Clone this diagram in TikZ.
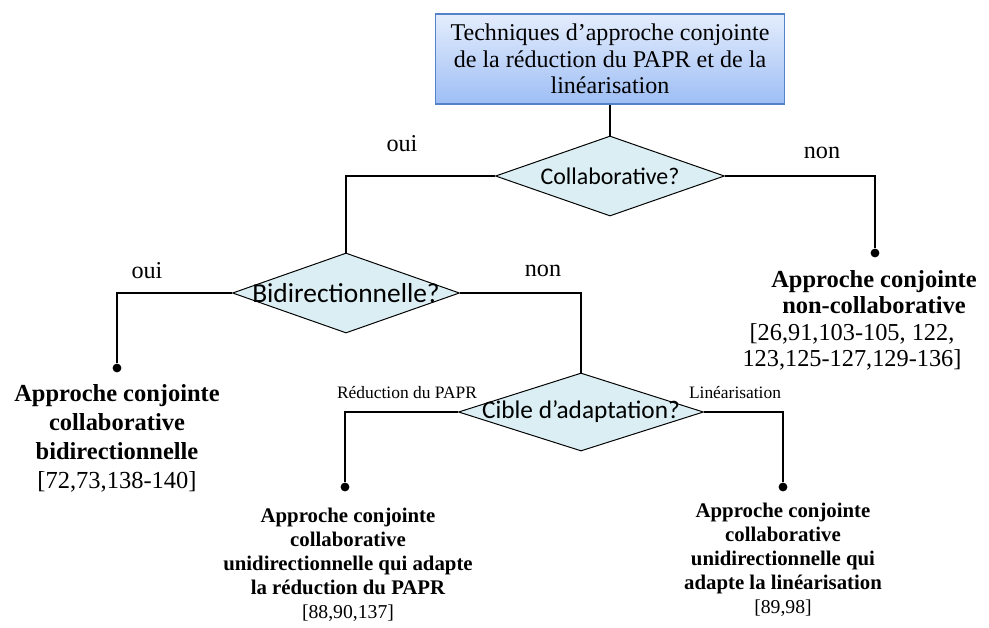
\documentclass[tikz,border=0pt]{standalone}
\usepackage{fontspec}
\setmainfont{Liberation Serif}
\newfontfamily\calibri{Carlito}
\usetikzlibrary{positioning,shapes.geometric}
\definecolor{titletop}{RGB}{228,237,252}
\definecolor{titlebot}{RGB}{158,190,245}
\definecolor{titleline}{RGB}{84,130,200}
\definecolor{decfill}{RGB}{218,238,243}

\begin{document}
\begin{tikzpicture}[x=0.025cm,y=-0.025cm,
  titlebox/.style={draw=titleline,line width=0.8pt,top color=titletop,bottom color=titlebot,
    minimum width=8.725cm,minimum height=2.25cm,inner sep=0pt,align=center,
    font=\fontsize{17.1}{19}\selectfont},
  question/.style={draw,diamond,fill=decfill,line width=0.7pt,inner sep=0pt},
  qtext/.style={font=\calibri\fontsize{17}{20}\selectfont},
  endpoint/.style={circle,fill=black,inner sep=0pt,minimum size=0.22cm},
  bigresult/.style={anchor=north,inner sep=0pt,align=center,font=\bfseries\fontsize{17.4}{20.6}\selectfont},
  smallresult/.style={anchor=north,inner sep=0pt,align=center,font=\bfseries\fontsize{14.8}{17}\selectfont},
  answer/.style={inner sep=0pt,font=\fontsize{17.2}{20}\selectfont},
  target/.style={inner sep=0pt,font=\fontsize{12.4}{14}\selectfont},
  link/.style={line width=1pt}
]
  \useasboundingbox (0,0) rectangle (989,627);

  \node[titlebox] (title) at (610,59) {Techniques d’approche conjointe\\de la réduction du PAPR et de la\\linéarisation};

  \node[question,minimum width=5.725cm,minimum height=2cm,label={[qtext]center:Collaborative?}] (collab) at (610,176) {};
  \node[question,minimum width=5.675cm,minimum height=2cm,label={[qtext,font=\calibri\fontsize{19.5}{22}\selectfont]center:Bidirectionnelle?}] (bidir) at (346,293) {};
  \node[question,minimum width=6.125cm,minimum height=1.95cm,label={[qtext,font=\calibri\fontsize{18}{21}\selectfont]center:Cible d’adaptation?}] (cible) at (581,412) {};

  \node[answer] (oui1) at (402,144) {oui};
  \node[answer] (non1) at (822,153) {non};
  \node[answer] (oui2) at (147,271) {oui};
  \node[answer] (non2) at (543,271) {non};
  \node[target] (lblpapr) at (407,393) {Réduction du PAPR};
  \node[target] (lbllin) at (735,393) {Linéarisation};

  \node[endpoint] (ncdot) at (875,253) {};
  \node[endpoint] (bidot) at (117,368) {};
  \node[endpoint] (papdot) at (345,487) {};
  \node[endpoint] (lindot) at (783,487) {};

  % resultats
  \node[bigresult,font=\bfseries\fontsize{17.4}{18.7}\selectfont] (noncollab) at (874,270) {Approche conjointe\\non-collaborative};
  \node[bigresult,font=\fontsize{17.3}{18.7}\selectfont] (ncrefs) at (852,323) {[26,91,103-105, 122,\\123,125-127,129-136]};
  \node[bigresult] (bicollab) at (117,384) {Approche conjointe\\collaborative\\bidirectionnelle\\{\mdseries [72,73,138-140]}};
  \node[smallresult] (unipapr) at (348,508) {Approche conjointe\\collaborative\\unidirectionnelle qui adapte\\la réduction du PAPR\\{\mdseries\fontsize{14}{17}\selectfont [88,90,137]}};
  \node[smallresult] (unilin) at (783,503) {Approche conjointe\\collaborative\\unidirectionnelle qui\\adapte la linéarisation\\{\mdseries\fontsize{14}{17}\selectfont [89,98]}};

  \draw[link] (title.south) -- (collab.north);
  \draw[link] (collab.west) -| (bidir.north);
  \draw[link] (collab.east) -| (ncdot);
  \draw[link] (bidir.west) -| (bidot);
  \draw[link] (bidir.east) -| (cible.north);
  \draw[link] (cible.west) -| (papdot);
  \draw[link] (cible.east) -| (lindot);
\end{tikzpicture}
\end{document}
